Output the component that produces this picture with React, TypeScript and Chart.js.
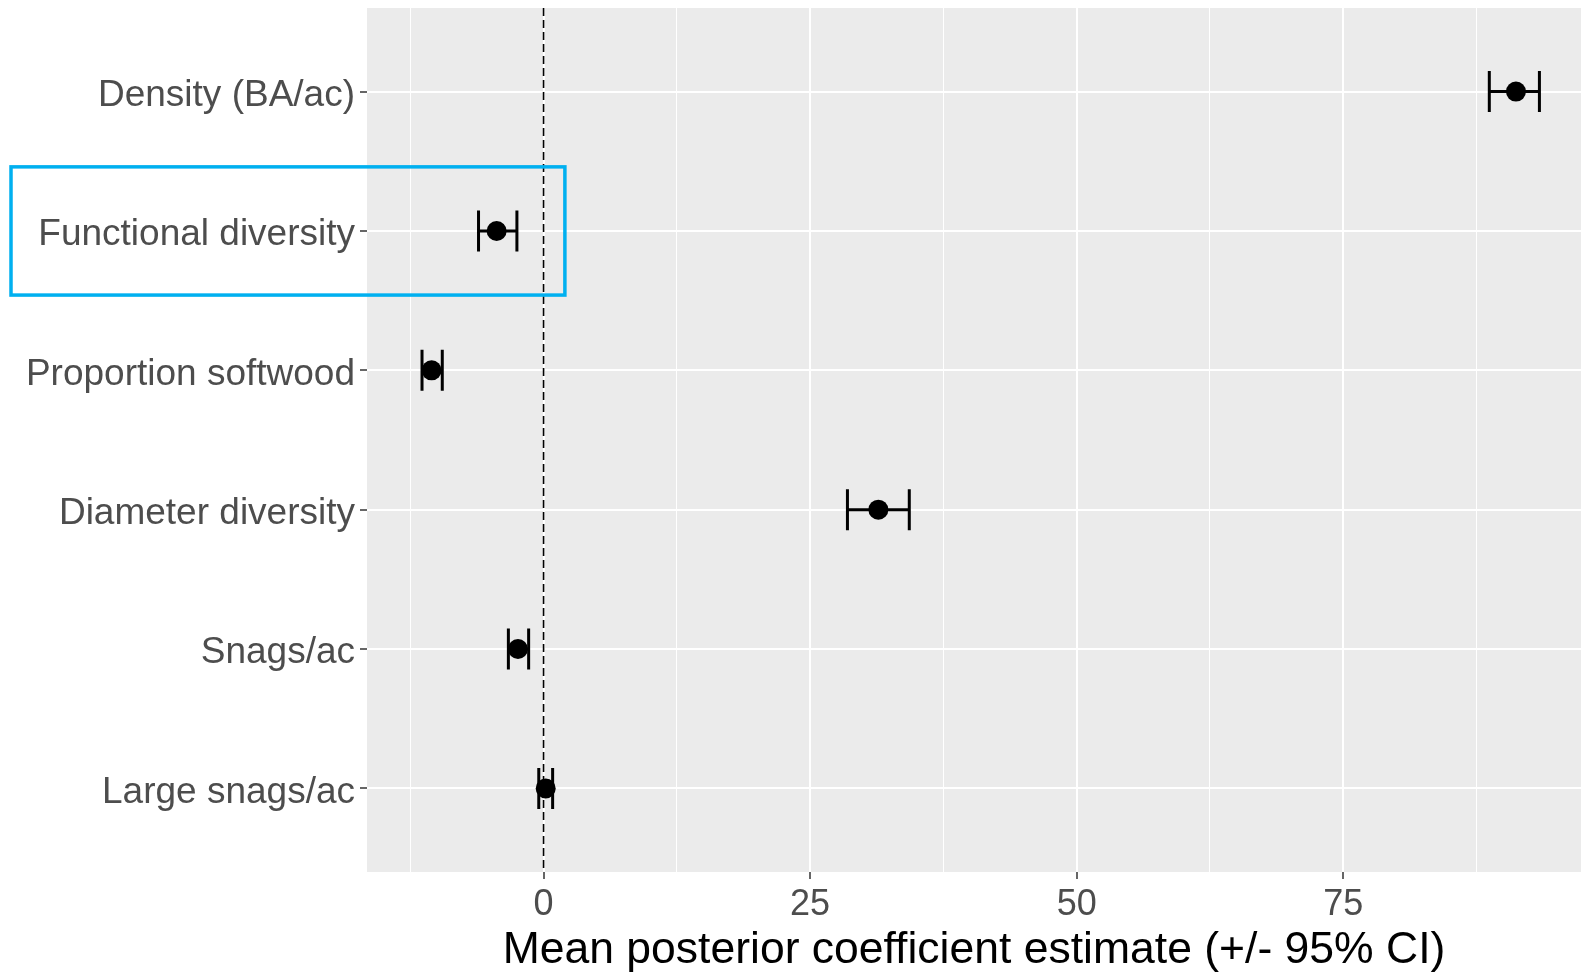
import React, { useEffect, useRef } from "react";
import { Chart, registerables } from "chart.js";

Chart.register(...registerables);

const categories = [
  "Density (BA/ac)",
  "Functional diversity",
  "Proportion softwood",
  "Diameter diversity",
  "Snags/ac",
  "Large snags/ac",
];
const means = [91.2, -4.4, -10.5, 31.4, -2.4, 0.2];
const lower = [88.7, -6.1, -11.4, 28.5, -3.3, -0.45];
const upper = [93.4, -2.5, -9.5, 34.3, -1.4, 0.85];

const xMajorTicks = [0, 25, 50, 75];
const xMinorTicks = [-12.5, 12.5, 37.5, 62.5, 87.5];
const xLimits = [-16.56, 97.3];
const xTitle = "Mean posterior coefficient estimate (+/- 95% CI)";

const highlightIndex = 1;
const highlightXEnd = 2.0;

export default function App() {
  const ref = useRef<HTMLCanvasElement>(null);

  useEffect(() => {
    document.body.style.margin = "0";
    const font = "'Liberation Sans', Arial, Helvetica, sans-serif";

    const bgPlugin = {
      id: "panelBg",
      beforeDraw(chart: any) {
        const { ctx, chartArea: a } = chart;
        ctx.save();
        ctx.fillStyle = "#EBEBEB";
        ctx.fillRect(a.left, a.top, a.right - a.left, a.bottom - a.top);
        ctx.restore();
      },
    };

    const errPlugin = {
      id: "errorBars",
      beforeDatasetsDraw(chart: any) {
        const { ctx, chartArea: a } = chart;
        const xs = chart.scales.x;
        const ys = chart.scales.y;
        ctx.save();
        ctx.beginPath();
        ctx.rect(a.left, a.top, a.right - a.left, a.bottom - a.top);
        ctx.clip();
        const x0 = xs.getPixelForValue(0);
        ctx.strokeStyle = "#000000";
        ctx.lineWidth = 1.6;
        ctx.setLineDash([8, 4]);
        ctx.beginPath();
        ctx.moveTo(x0, a.top);
        ctx.lineTo(x0, a.bottom);
        ctx.stroke();
        ctx.setLineDash([]);
        ctx.lineWidth = 3;
        ctx.lineCap = "butt";
        const h = 20.5;
        categories.forEach((_, i) => {
          const yc = ys.getPixelForValue(i);
          const xl = xs.getPixelForValue(lower[i]);
          const xu = xs.getPixelForValue(upper[i]);
          ctx.beginPath();
          ctx.moveTo(xl, yc);
          ctx.lineTo(xu, yc);
          ctx.moveTo(xl, yc - h);
          ctx.lineTo(xl, yc + h);
          ctx.moveTo(xu, yc - h);
          ctx.lineTo(xu, yc + h);
          ctx.stroke();
        });
        ctx.restore();
      },
    };

    const boxPlugin = {
      id: "highlightBox",
      afterDraw(chart: any) {
        const { ctx } = chart;
        const xs = chart.scales.x;
        const ys = chart.scales.y;
        const top = ys.getPixelForValue(highlightIndex - 0.46);
        const bottom = ys.getPixelForValue(highlightIndex + 0.46);
        const right = xs.getPixelForValue(highlightXEnd);
        const left = 11;
        ctx.save();
        ctx.strokeStyle = "#00B0F0";
        ctx.lineWidth = 3.5;
        ctx.strokeRect(left, top, right - left, bottom - top);
        ctx.restore();
      },
    };

    const chart = new Chart(ref.current as HTMLCanvasElement, {
      type: "scatter",
      data: {
        datasets: [
          {
            data: means.map((m, i) => ({ x: m, y: i })),
            backgroundColor: "#000000",
            borderColor: "#000000",
            pointRadius: 10,
            pointHoverRadius: 10,
            borderWidth: 0,
          },
        ],
      },
      options: {
        animation: false,
        responsive: false,
        layout: { autoPadding: false, padding: { top: 8, left: 0, right: 0, bottom: 0 } },
        plugins: {
          legend: { display: false },
          tooltip: { enabled: false },
        },
        scales: {
          x: {
            type: "linear",
            min: xLimits[0],
            max: xLimits[1],
            afterBuildTicks(scale: any) {
              scale.ticks = [...xMinorTicks, ...xMajorTicks]
                .sort((a, b) => a - b)
                .map((v) => ({ value: v }));
            },
            afterFit(scale: any) {
              scale.height = 101;
              scale.paddingLeft = 0;
              scale.paddingRight = 0;
            },
            border: { display: false },
            grid: {
              color: "#FFFFFF",
              lineWidth: (c: any) =>
                c.tick && xMajorTicks.includes(c.tick.value) ? 2 : 1,
              tickColor: (c: any) =>
                c.tick && xMajorTicks.includes(c.tick.value) ? "#333333" : "rgba(0,0,0,0)",
              tickWidth: 1.5,
              tickLength: 7,
            },
            ticks: {
              autoSkip: false,
              maxRotation: 0,
              padding: 4,
              color: "#4D4D4D",
              font: { family: font, size: 36 },
              callback: (v: any) => (xMajorTicks.includes(Number(v)) ? String(v) : ""),
            },
            title: {
              display: true,
              text: xTitle,
              color: "#000000",
              font: { family: font, size: 44.5 },
              padding: { top: 0, bottom: -4 },
            },
          },
          y: {
            type: "linear",
            min: -0.6,
            max: categories.length - 0.4,
            reverse: true,
            afterBuildTicks(scale: any) {
              scale.ticks = categories.map((_, i) => ({ value: i }));
            },
            afterFit(scale: any) {
              scale.width = 367;
              scale.paddingTop = 0;
              scale.paddingBottom = 0;
            },
            border: { display: false },
            grid: {
              color: "#FFFFFF",
              lineWidth: 2,
              tickColor: "#333333",
              tickWidth: 1.5,
              tickLength: 7,
            },
            ticks: {
              autoSkip: false,
              padding: 5,
              labelOffset: 4,
              color: "#4D4D4D",
              font: { family: font, size: 37 },
              callback: (v: any) => categories[Number(v)] ?? "",
            },
          },
        },
      },
      plugins: [bgPlugin, errPlugin, boxPlugin],
    } as any);

    return () => chart.destroy();
  }, []);

  return (
    <canvas
      ref={ref}
      width={1581}
      height={973}
      style={{ display: "block", width: 1581, height: 973 }}
    />
  );
}
